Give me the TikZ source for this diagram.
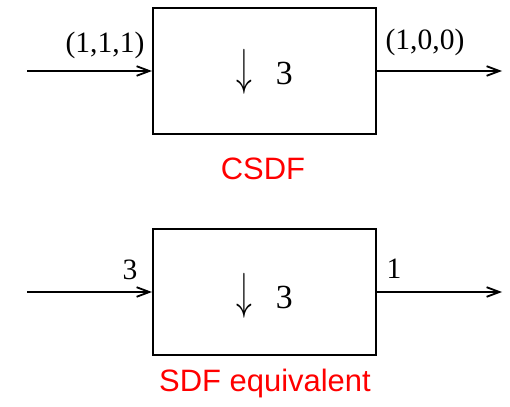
\documentclass[tikz,border=0pt]{standalone}
\usepackage{fontspec}
\setmainfont{Liberation Serif}
\newfontfamily\capfont{Liberation Sans}
\usetikzlibrary{arrows.meta}

\begin{document}
\begin{tikzpicture}[x=0.025cm,y=-0.025cm,>={Straight Barb[length=3.2mm,width=2.4mm]}]
\useasboundingbox (0,0) rectangle (510,406);
\tikzset{blockbox/.style={draw=black,line width=1.4pt,minimum width=5.575cm,minimum height=3.15cm,inner sep=0pt},
  optext/.style={inner sep=0pt,anchor=base,font=\fontsize{24}{24}\selectfont},
  flowarrow/.style={->,line width=1.3pt},
  ratelabel/.style={inner sep=0pt,font=\fontsize{21}{21}\selectfont},
  caption/.style={text=red,inner sep=0pt,font=\capfont\fontsize{22}{22}\selectfont}}
% CSDF actor
\node[blockbox] (csdf) at (264.5,71) {};
\node[optext] (csdfop) at (264.5,85) {\scalebox{0.9}[1.45]{$\downarrow$}\hspace{0.7em}3};
\coordinate (cin) at (27,71);
\coordinate (cout) at (502,71);
\draw[flowarrow] (cin)--(csdf.west);
\draw[flowarrow] (csdf.east)--(cout);
\node[ratelabel] (cinrate) at (105,45) {(1,1,1)};
\node[ratelabel] (coutrate) at (425,42) {(1,0,0)};
\node[caption] (csdfcap) at (263,169) {CSDF};
% SDF equivalent actor
\node[blockbox] (sdf) at (264.5,292) {};
\node[optext] (sdfop) at (264.5,308) {\scalebox{0.9}[1.45]{$\downarrow$}\hspace{0.7em}3};
\coordinate (sin) at (27,292);
\coordinate (sout) at (502,292);
\draw[flowarrow] (sin)--(sdf.west);
\draw[flowarrow] (sdf.east)--(sout);
\node[ratelabel] (sinrate) at (130,270) {3};
\node[ratelabel] (soutrate) at (394,269) {1};
\node[caption] (sdfcap) at (265,383) {SDF equivalent};
\end{tikzpicture}
\end{document}
